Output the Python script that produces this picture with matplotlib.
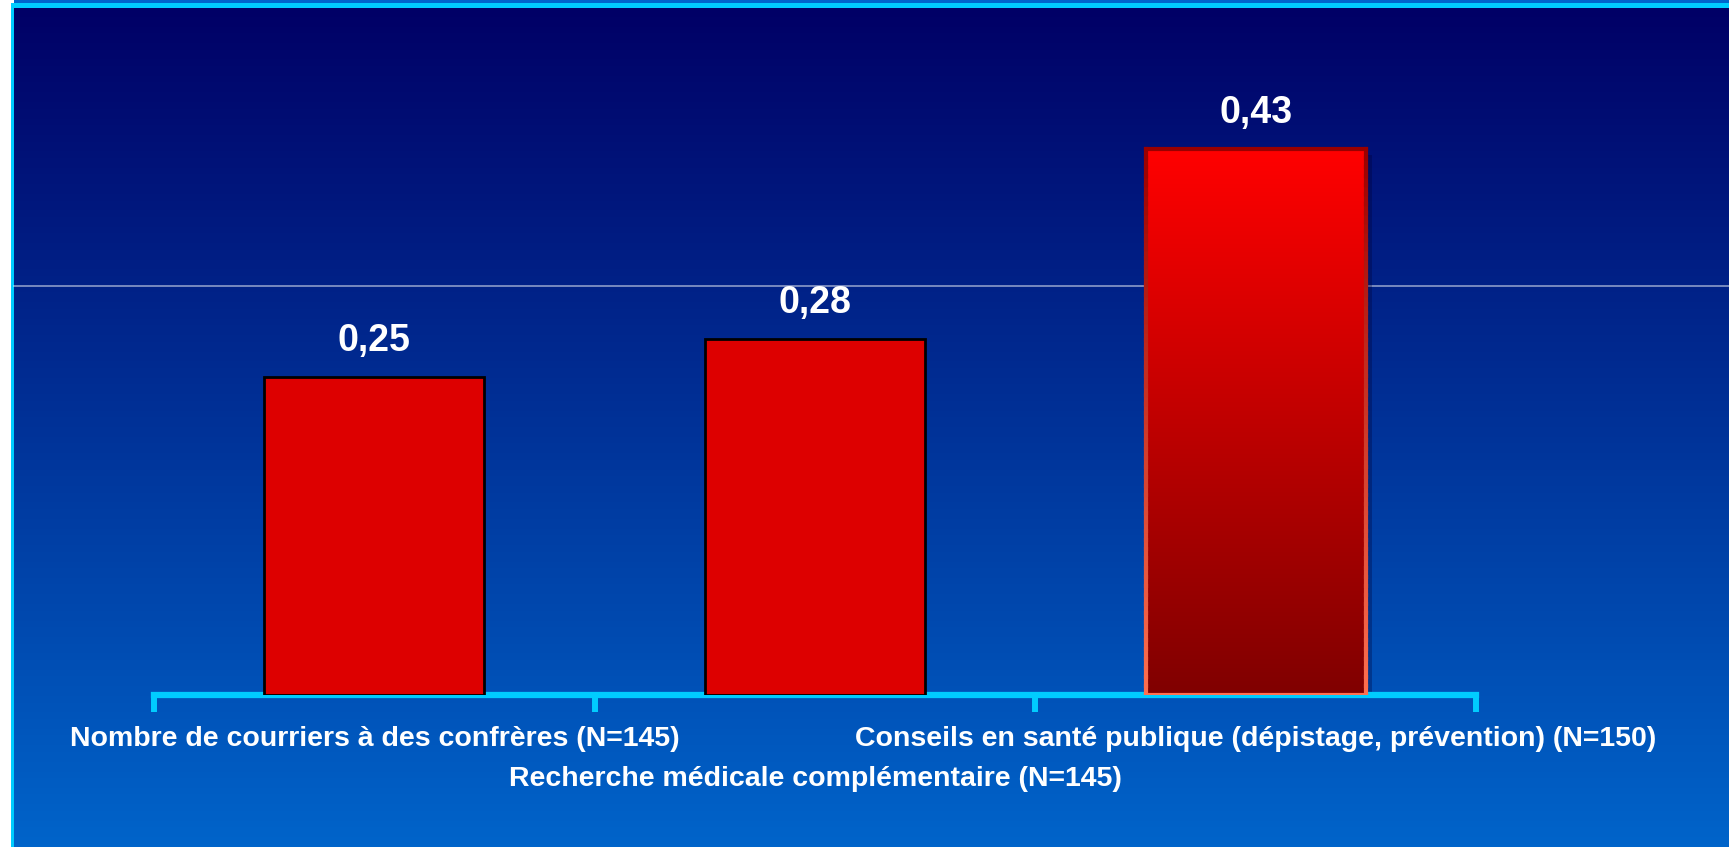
import numpy as np
import matplotlib
matplotlib.use('Agg')
import matplotlib.pyplot as plt
from matplotlib.colors import LinearSegmentedColormap
from matplotlib.collections import LineCollection
from matplotlib.patches import Rectangle
from matplotlib.lines import Line2D
import matplotlib.transforms as mtransforms

# data
categories = ['Nombre de courriers à des confrères (N=145)',
              'Recherche médicale complémentaire (N=145)',
              'Conseils en santé publique (dépistage, prévention) (N=150)']
values = [0.25, 0.28, 0.43]
value_labels = ['0,25', '0,28', '0,43']

plt.rcParams['font.family'] = ['Liberation Sans', 'DejaVu Sans']

fig = plt.figure(figsize=(17.29, 8.47), dpi=100)
fig.patch.set_facecolor('white')

# slide background gradient
bg = fig.add_axes([0, 0, 1, 1], zorder=0)
bg_cmap = LinearSegmentedColormap.from_list('bg', ['#000066', '#0064CA'])
grad = np.linspace(0, 1, 256).reshape(-1, 1)
bg.imshow(grad, cmap=bg_cmap, aspect='auto', extent=[14 / 1729, 1, 0, 1 - 8 / 847])
bg.set_xlim(0, 1)
bg.set_ylim(0, 1)
bg.axis('off')
# slide borders
bg.add_patch(Rectangle((14 / 1729, 1 - 3 / 847), 1, 3 / 847, color='#0066CC', lw=0))
bg.add_patch(Rectangle((11 / 1729, 1 - 8 / 847), 1, 5 / 847, color='#00CCFF', lw=0))
bg.add_patch(Rectangle((11 / 1729, 0), 3 / 1729, 1 - 3 / 847, color='#00CCFF', lw=0))
fig.add_artist(Line2D([14 / 1729, 1], [1 - 286 / 847] * 2, color='white', alpha=0.55, lw=1.2))

ax = fig.add_axes([154 / 1729, 1 - 695 / 847, 1322 / 1729, 635 / 847], zorder=2)
ax.patch.set_alpha(0)
x = np.arange(len(values))
bars = ax.bar(x, values, width=0.5, color='#DD0000', edgecolor='black', linewidth=2, zorder=3)
ax.set_xlim(-0.5, 2.5)
ax.set_ylim(0, 0.5)

# third bar: gradient fill, gradient edge, shadow
b3 = bars[2]
b3.set_facecolor('none')
b3.set_edgecolor('none')
bx, by = b3.get_x(), b3.get_y()
bw, bh = b3.get_width(), b3.get_height()
shadow_tr = mtransforms.offset_copy(ax.transData, fig=fig, x=6, y=-6, units='dots')
ax.add_patch(Rectangle((bx, by), bw, bh, color='#000033', alpha=0.3, lw=0,
                       transform=shadow_tr, zorder=2))
fill_cmap = LinearSegmentedColormap.from_list('fill', ['#800000', '#FF0000'])
im = ax.imshow(grad, cmap=fill_cmap, aspect='auto', origin='lower',
               extent=[bx, bx + bw, by, by + bh], zorder=3)
im.set_clip_path(b3)
edge_cmap = LinearSegmentedColormap.from_list('edge', ['#FF7050', '#990000'])
n = 60
ys = np.linspace(by, by + bh, n + 1)
segs, cols = [], []
for i in range(n):
    t = (i + 0.5) / n
    segs.append([(bx, ys[i]), (bx, ys[i + 1])])
    segs.append([(bx + bw, ys[i]), (bx + bw, ys[i + 1])])
    cols += [edge_cmap(t)] * 2
segs.append([(bx, by + bh), (bx + bw, by + bh)])
cols.append(edge_cmap(1.0))
segs.append([(bx, by), (bx + bw, by)])
cols.append(edge_cmap(0.0))
ax.add_collection(LineCollection(segs, colors=cols, linewidths=3, zorder=4,
                                 capstyle='projecting'))

for xi, v, lab in zip(x, values, value_labels):
    ax.annotate(lab, (xi, v), xytext=(0, 19), textcoords='offset points',
                ha='center', va='baseline', color='white', fontsize=27,
                fontweight='bold', zorder=5)

# axis styling
for s in ['top', 'right', 'left']:
    ax.spines[s].set_visible(False)
ax.spines['bottom'].set_color('#00CCFF')
ax.spines['bottom'].set_linewidth(4.5)
ax.set_yticks([])
ax.set_xticks(x)
ax.set_xticklabels(categories, fontsize=20.5, fontweight='bold', color='white')
ax.tick_params(axis='x', which='major', length=0, pad=22.5)
ax.xaxis.get_major_ticks()[1].set_pad(51)
ax.set_xticks([-0.5, 0.5, 1.5, 2.5], minor=True)
ax.tick_params(axis='x', which='minor', length=12, width=4.3, color='#00CCFF')

plt.savefig('out.png', dpi=100)
